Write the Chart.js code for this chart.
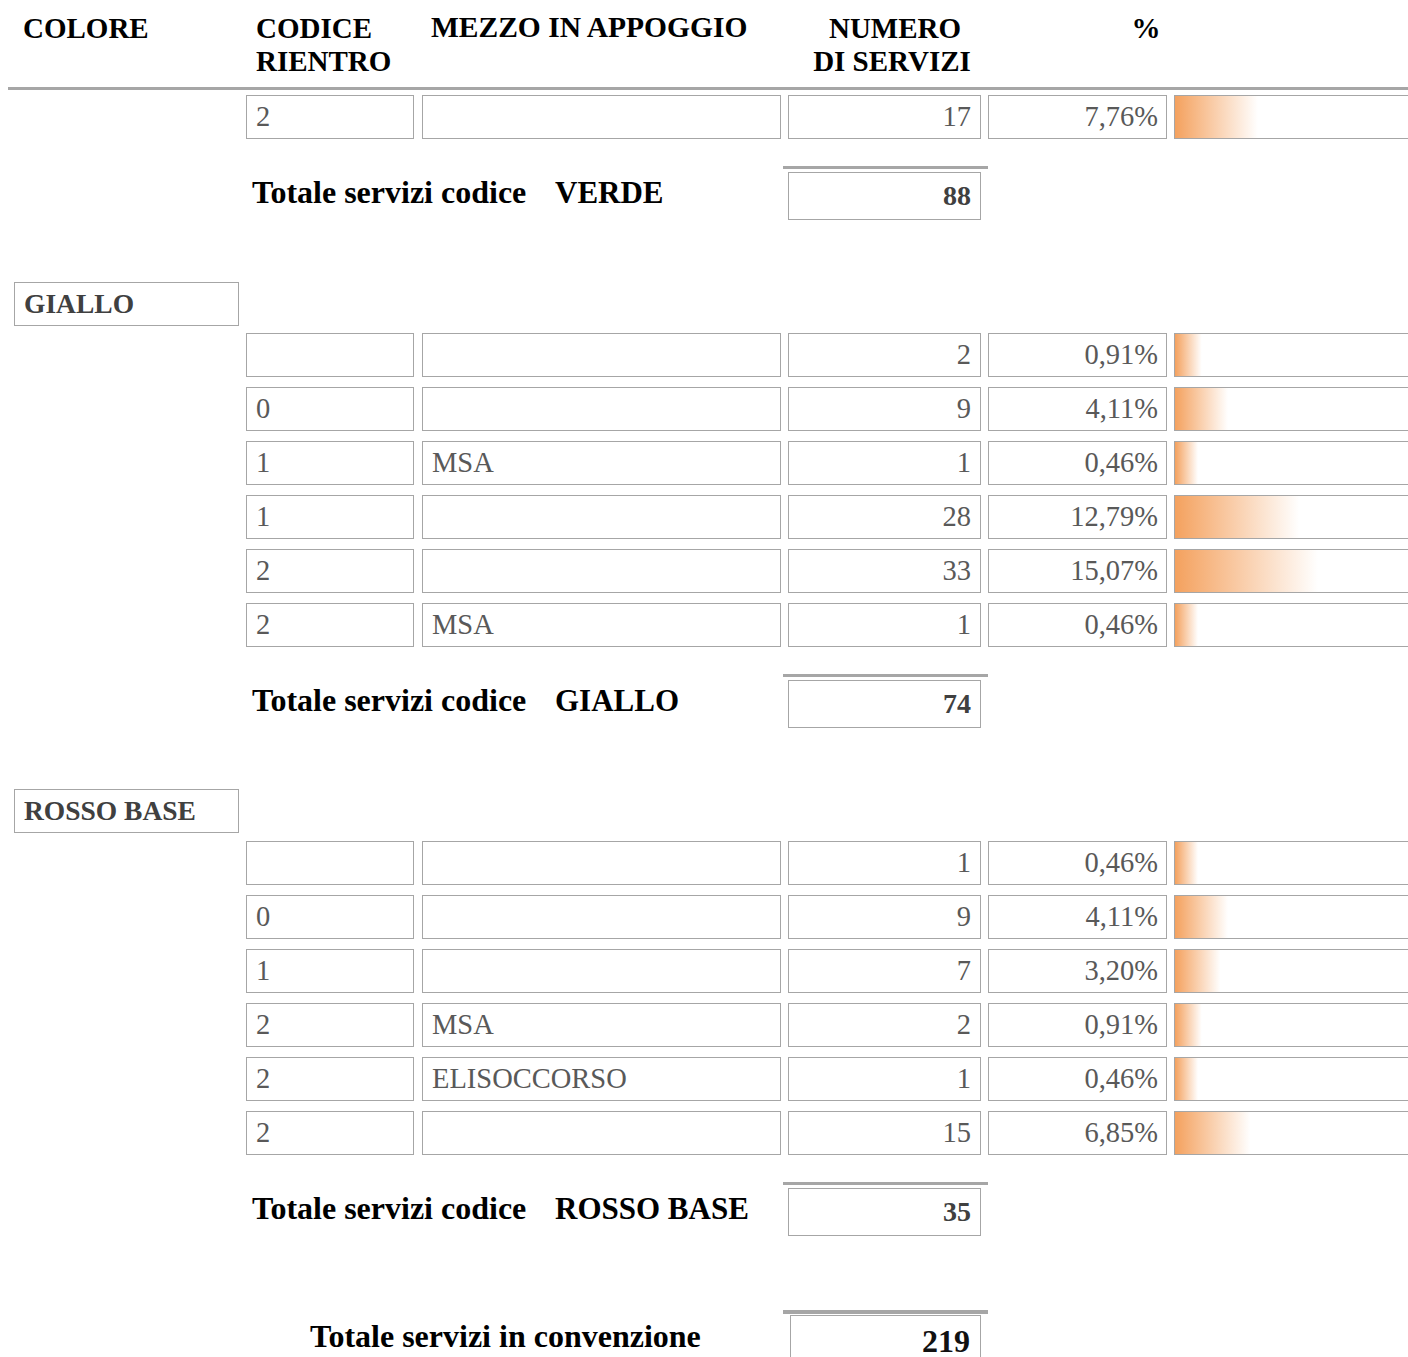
<!DOCTYPE html>
<html lang="it">
<head>
<meta charset="utf-8">
<title>Servizi per codice colore</title>
<script src="https://cdn.jsdelivr.net/npm/chart.js@4/dist/chart.umd.min.js"></script>
<style>
  html, body { margin: 0; padding: 0; background: #fff; }
  body { width: 1408px; height: 1357px; overflow: hidden; position: relative; font-family: "Liberation Serif", "Times New Roman", serif; }
  .t { position: absolute; white-space: nowrap; line-height: 1; }
  .box { position: absolute; box-sizing: border-box; border: 1px solid #a6a6a6; background: #fff; }
  .rule { position: absolute; background: #a6a6a6; }
  .bar canvas { position: absolute; left: 0; top: 0; }
</style>
</head>
<body>
<script>
// ---- data ----
const verdeCodici = ['2'];
const verdeMezzi = [''];
const verdeNumeri = [17];
const verdePct = [7.76];
const verdeTotale = 88;

const gialloCodici = ['', '0', '1', '1', '2', '2'];
const gialloMezzi = ['', '', 'MSA', '', '', 'MSA'];
const gialloNumeri = [2, 9, 1, 28, 33, 1];
const gialloPct = [0.91, 4.11, 0.46, 12.79, 15.07, 0.46];
const gialloTotale = 74;

const rossoCodici = ['', '0', '1', '2', '2', '2'];
const rossoMezzi = ['', '', '', 'MSA', 'ELISOCCORSO', ''];
const rossoNumeri = [1, 9, 7, 2, 1, 15];
const rossoPct = [0.46, 4.11, 3.20, 0.91, 0.46, 6.85];
const rossoTotale = 35;

const totaleConvenzione = 219;

const headerLabels = ['COLORE', 'CODICE', 'RIENTRO', 'MEZZO IN APPOGGIO', 'NUMERO', 'DI SERVIZI', '%'];

// data bar scale (Excel style: short minimum length)
const BAR_BASE = -2.34;
const PX_PER_PCT = 8.21;
const BAR_ORANGE = '#f4a15e';

const fmtPct = v => v.toFixed(2).replace('.', ',') + '%';

// place text by its baseline
function text(str, x, baseline, size, opts = {}) {
  const el = document.createElement('div');
  el.className = 't';
  el.textContent = str;
  el.style.fontSize = size + 'px';
  el.style.top = (baseline - 0.8375 * size) + 'px';
  el.style.fontWeight = opts.bold ? 'bold' : 'normal';
  el.style.color = opts.color || '#000';
  if (opts.align === 'right') {
    el.style.right = (1408 - x) + 'px';
  } else if (opts.align === 'center') {
    el.style.left = (x - 300) + 'px';
    el.style.width = '600px';
    el.style.textAlign = 'center';
  } else {
    el.style.left = x + 'px';
  }
  document.body.appendChild(el);
  return el;
}

function box(x, y, w, h) {
  const el = document.createElement('div');
  el.className = 'box';
  Object.assign(el.style, { left: x + 'px', top: y + 'px', width: w + 'px', height: h + 'px' });
  document.body.appendChild(el);
  return el;
}

function rule(x, y, w, h) {
  const el = document.createElement('div');
  el.className = 'rule';
  Object.assign(el.style, { left: x + 'px', top: y + 'px', width: w + 'px', height: h + 'px' });
  document.body.appendChild(el);
}

function dataBar(cell, pct) {
  const canvas = document.createElement('canvas');
  canvas.width = 238;
  canvas.height = 42;
  cell.classList.add('bar');
  cell.appendChild(canvas);
  new Chart(canvas.getContext('2d'), {
    type: 'bar',
    data: {
      labels: [''],
      datasets: [{
        data: [pct],
        base: BAR_BASE,
        borderWidth: 0,
        barPercentage: 1,
        categoryPercentage: 1,
        backgroundColor: (ctx) => {
          const chart = ctx.chart;
          if (!chart.chartArea) return BAR_ORANGE;
          const x0 = chart.scales.x.getPixelForValue(BAR_BASE);
          const x1 = chart.scales.x.getPixelForValue(ctx.raw);
          const g = chart.ctx.createLinearGradient(x0, 0, x1, 0);
          g.addColorStop(0, BAR_ORANGE);
          g.addColorStop(1, '#ffffff');
          return g;
        }
      }]
    },
    options: {
      indexAxis: 'y',
      responsive: false,
      animation: false,
      events: [],
      layout: { padding: 0 },
      plugins: { legend: { display: false }, tooltip: { enabled: false } },
      scales: {
        x: { display: false, min: BAR_BASE, max: BAR_BASE + 238 / PX_PER_PCT },
        y: { display: false }
      }
    }
  });
}

function row(top, codice, mezzo, numero, pct) {
  const grey = { color: '#595959' };
  box(246, top, 168, 44);
  box(422, top, 359, 44);
  box(788, top, 193, 44);
  box(988, top, 179, 44);
  const cell = box(1174, top, 240, 44);
  if (codice) text(codice, 256, top + 32, 28.5, grey);
  if (mezzo) text(mezzo, 432, top + 32, 28.5, grey);
  text(String(numero), 971, top + 32, 28.5, Object.assign({ align: 'right' }, grey));
  text(fmtPct(pct), 1158, top + 32, 28.5, Object.assign({ align: 'right' }, grey));
  dataBar(cell, pct);
}

function totale(top, nome, valore) {
  rule(783, top - 6, 205, 3);
  box(788, top, 193, 48);
  text('Totale servizi codice', 252, top + 31, 32, { bold: true });
  text(nome, 555, top + 31, 31, { bold: true });
  text(String(valore), 971, top + 33, 28, { bold: true, color: '#404040', align: 'right' });
}

function sezione(top, nome) {
  box(14, top, 225, 44);
  text(nome, 24, top + 31, 27.5, { bold: true, color: '#404040' });
}

// ---- header ----
text(headerLabels[0], 23, 38, 29, { bold: true });
text(headerLabels[1], 256, 38, 29, { bold: true });
text(headerLabels[2], 256, 71, 29, { bold: true });
text(headerLabels[3], 431, 38, 29.5, { bold: true });
text(headerLabels[4], 895, 38, 29, { bold: true, align: 'center' });
text(headerLabels[5], 892, 71, 29, { bold: true, align: 'center' });
text(headerLabels[6], 1146, 38, 29, { bold: true, align: 'center' });
rule(8, 87, 1400, 3);

// ---- VERDE (tail) ----
verdeCodici.forEach((c, i) => row(95 + 54 * i, c, verdeMezzi[i], verdeNumeri[i], verdePct[i]));
totale(172, 'VERDE', verdeTotale);

// ---- GIALLO ----
sezione(282, 'GIALLO');
gialloCodici.forEach((c, i) => row(333 + 54 * i, c, gialloMezzi[i], gialloNumeri[i], gialloPct[i]));
totale(680, 'GIALLO', gialloTotale);

// ---- ROSSO BASE ----
sezione(789, 'ROSSO BASE');
rossoCodici.forEach((c, i) => row(841 + 54 * i, c, rossoMezzi[i], rossoNumeri[i], rossoPct[i]));
totale(1188, 'ROSSO BASE', rossoTotale);

// ---- totale generale ----
rule(783, 1310, 205, 4);
box(790, 1315, 191, 60);
text('Totale servizi in convenzione', 310, 1347, 32, { bold: true });
text(String(totaleConvenzione), 970, 1352, 32, { bold: true, color: '#111', align: 'right' });
</script>
</body>
</html>
